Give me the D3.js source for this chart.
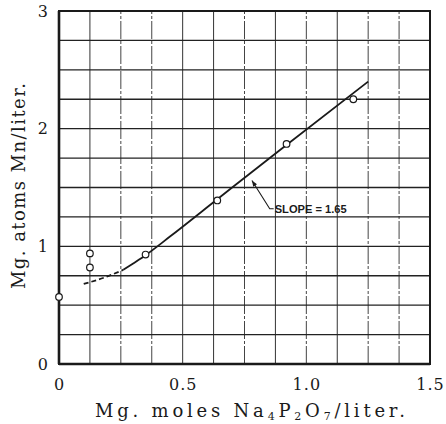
<!DOCTYPE html>
<html>
<head>
<meta charset="utf-8">
<script src="https://cdn.jsdelivr.net/npm/d3@7"></script>
<style>
  html, body { margin: 0; padding: 0; background: #fff; }
  svg { display: block; }
</style>
</head>
<body>
<script>
// ---- data ----
const pointX = [0, 0.125, 0.125, 0.35, 0.64, 0.92, 1.19];
const pointY = [0.57, 0.82, 0.94, 0.93, 1.39, 1.87, 2.25];

const dashedCurveX = [0.10, 0.19, 0.26];
const dashedCurveY = [0.68, 0.74, 0.80];

const solidCurveX = [0.26, 0.30, 0.35, 0.45, 0.64, 0.90, 1.25];
const solidCurveY = [0.80, 0.855, 0.925, 1.085, 1.40, 1.83, 2.40];

const xTicks = [0, 0.5, 1.0, 1.5];
const xTickLabels = ["0", "0.5", "1.0", "1.5"];
const yTicks = [0, 1, 2, 3];
const yTickLabels = ["0", "1", "2", "3"];

const xGridStep = 0.125;
const yGridStep = 0.25;

const annotationText = "SLOPE = 1.65";
const annotationTip = [0.78, 1.56];
const annotationElbow = [0.852, 1.32];
const annotationAnchor = [0.872, 1.32];

// ---- layout ----
const W = 446, H = 424;
const x = d3.scaleLinear().domain([0, 1.5]).range([59, 430]);
const y = d3.scaleLinear().domain([0, 3]).range([364, 11]);

const svg = d3.select("body").append("svg")
  .attr("width", W).attr("height", H)
  .style("background", "#fff");

const ink = "#1a1a1a";

// grid
const xGrid = d3.range(1, 12).map(i => i * xGridStep);
const yGrid = d3.range(1, 12).map(i => i * yGridStep);
const dashDot = new Set([2, 3, 6, 8, 10, 11]);

svg.append("g").selectAll("line").data(xGrid).join("line")
  .attr("x1", d => x(d)).attr("x2", d => x(d))
  .attr("y1", y(0)).attr("y2", y(3))
  .attr("stroke", (d, i) => dashDot.has(i + 1) ? "#444" : "#333")
  .attr("stroke-width", 1)
  .attr("stroke-dasharray", (d, i) => dashDot.has(i + 1) ? "18,2,3,2" : null);

svg.append("g").selectAll("line").data(yGrid).join("line")
  .attr("x1", x(0)).attr("x2", x(1.5))
  .attr("y1", d => y(d)).attr("y2", d => y(d))
  .attr("stroke", "#222")
  .attr("stroke-width", 1.3);

// frame
svg.append("rect")
  .attr("x", x(0)).attr("y", y(3))
  .attr("width", x(1.5) - x(0)).attr("height", y(0) - y(3))
  .attr("fill", "none").attr("stroke", ink).attr("stroke-width", 2);
svg.append("line")
  .attr("x1", x(0)).attr("x2", x(0)).attr("y1", y(0)).attr("y2", y(3))
  .attr("stroke", ink).attr("stroke-width", 2.6);
svg.append("line")
  .attr("x1", x(0)).attr("x2", x(1.5)).attr("y1", y(0)).attr("y2", y(0))
  .attr("stroke", ink).attr("stroke-width", 2.6);

// curves
const line = d3.line().x(d => x(d[0])).y(d => y(d[1])).curve(d3.curveMonotoneX);
svg.append("path")
  .datum(dashedCurveX.map((v, i) => [v, dashedCurveY[i]]))
  .attr("d", line)
  .attr("fill", "none").attr("stroke", ink).attr("stroke-width", 1.8)
  .attr("stroke-dasharray", "5,3");
svg.append("path")
  .datum(solidCurveX.map((v, i) => [v, solidCurveY[i]]))
  .attr("d", line)
  .attr("fill", "none").attr("stroke", ink).attr("stroke-width", 1.8);

// points
svg.append("g").selectAll("circle").data(pointX.map((v, i) => [v, pointY[i]])).join("circle")
  .attr("cx", d => x(d[0])).attr("cy", d => y(d[1]))
  .attr("r", 3.3)
  .attr("fill", "#fff").attr("stroke", ink).attr("stroke-width", 1.2);

// annotation
svg.append("path")
  .attr("d", d3.line()([
    [x(annotationAnchor[0]) - 1, y(annotationAnchor[1])],
    [x(annotationElbow[0]), y(annotationElbow[1])],
    [x(annotationTip[0]), y(annotationTip[1])]
  ]))
  .attr("fill", "none").attr("stroke", ink).attr("stroke-width", 1.1);
{
  const tx = x(annotationTip[0]), ty = y(annotationTip[1]);
  const ex = x(annotationElbow[0]), ey = y(annotationElbow[1]);
  const ang = Math.atan2(ty - ey, tx - ex);
  const L = 6, Wd = 2.2;
  const bx = tx - L * Math.cos(ang), by = ty - L * Math.sin(ang);
  const px = -Math.sin(ang) * Wd, py = Math.cos(ang) * Wd;
  svg.append("path")
    .attr("d", `M${tx},${ty}L${bx + px},${by + py}L${bx - px},${by - py}Z`)
    .attr("fill", ink);
}
svg.append("text")
  .attr("x", x(annotationAnchor[0])).attr("y", y(annotationAnchor[1]) + 4)
  .attr("font-family", "Liberation Sans, Arial, sans-serif")
  .attr("font-weight", "bold").attr("font-size", 10.5)
  .attr("textLength", 72).attr("lengthAdjust", "spacingAndGlyphs")
  .attr("fill", ink)
  .text(annotationText);

// axes (labels only)
const xAxis = d3.axisBottom(x).tickValues(xTicks)
  .tickFormat((d, i) => xTickLabels[i]).tickSize(0).tickPadding(15);
const gx = svg.append("g").attr("transform", `translate(0,${y(0)})`).call(xAxis);
gx.select(".domain").remove();
gx.selectAll("text")
  .attr("font-family", "DejaVu Serif, serif").attr("font-size", 16)
  .attr("letter-spacing", 1).attr("fill", ink);

const yAxis = d3.axisLeft(y).tickValues(yTicks)
  .tickFormat((d, i) => yTickLabels[i]).tickSize(0).tickPadding(11);
const gy = svg.append("g").attr("transform", `translate(${x(0)},0)`).call(yAxis);
gy.select(".domain").remove();
gy.selectAll("text")
  .attr("font-family", "DejaVu Serif, serif").attr("font-size", 16)
  .attr("fill", ink);

// axis titles
const xt = svg.append("text")
  .attr("x", 250).attr("y", 417)
  .attr("text-anchor", "middle")
  .attr("font-family", "DejaVu Serif, serif").attr("font-size", 18)
  .attr("fill", ink)
  .attr("textLength", 310).attr("lengthAdjust", "spacing");
xt.append("tspan").text("Mg. moles Na");
xt.append("tspan").attr("font-size", 11).attr("dy", 3).text("4");
xt.append("tspan").attr("dy", -3).text("P");
xt.append("tspan").attr("font-size", 11).attr("dy", 3).text("2");
xt.append("tspan").attr("dy", -3).text("O");
xt.append("tspan").attr("font-size", 11).attr("dy", 3).text("7");
xt.append("tspan").attr("dy", -3).text("/liter.");

svg.append("text")
  .attr("transform", "translate(25,186) rotate(-90)")
  .attr("text-anchor", "middle")
  .attr("font-family", "DejaVu Serif, serif").attr("font-size", 18)
  .attr("fill", ink)
  .attr("textLength", 206).attr("lengthAdjust", "spacing")
  .text("Mg. atoms Mn/liter.");
</script>
</body>
</html>
